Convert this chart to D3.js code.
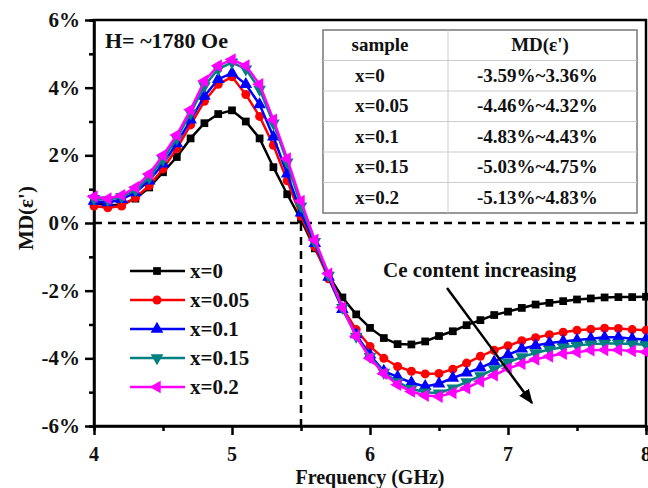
<!DOCTYPE html>
<html>
<head>
<meta charset="utf-8">
<script src="https://cdn.jsdelivr.net/npm/d3@7"></script>
<style>
  body { margin: 0; background: #fff; }
  text { font-family: "Liberation Serif", "Times New Roman", serif; font-weight: bold; fill: #111; }
</style>
</head>
<body>
<div id="chart"></div>
<script>
const freq = [4.0,4.1,4.2,4.3,4.4,4.5,4.6,4.7,4.8,4.9,5.0,5.1,5.2,5.3,5.4,5.5,5.6,5.7,5.8,5.9,6.0,
  6.1,6.2,6.3,6.4,6.5,6.6,6.7,6.8,6.9,7.0,7.1,7.2,7.3,7.4,7.5,7.6,7.7,7.8,7.9,8.0];

const mdX0 = [0.6,0.52,0.55,0.72,1.05,1.5,1.95,2.5,2.95,3.22,3.33,
  3.0,2.5,1.65,0.85,0.1,-0.75,-1.55,-2.2,-2.7,-3.1,
  -3.4,-3.58,-3.59,-3.5,-3.34,-3.2,-3.02,-2.87,-2.72,-2.62,
  -2.51,-2.41,-2.36,-2.31,-2.26,-2.23,-2.2,-2.19,-2.19,-2.18];
const mdX005 = [0.5,0.45,0.5,0.75,1.1,1.6,2.2,2.9,3.6,4.1,4.32,
  3.8,3.15,2.3,1.25,0.2,-0.7,-1.65,-2.5,-3.15,-3.65,
  -4.0,-4.24,-4.38,-4.46,-4.45,-4.32,-4.14,-3.94,-3.76,-3.63,
  -3.48,-3.39,-3.3,-3.23,-3.17,-3.14,-3.11,-3.12,-3.15,-3.17];
const mdX01 = [0.65,0.6,0.7,0.9,1.25,1.75,2.35,3.05,3.75,4.25,4.43,
  4.1,3.5,2.55,1.45,0.3,-0.6,-1.6,-2.55,-3.3,-3.9,
  -4.38,-4.55,-4.72,-4.83,-4.75,-4.58,-4.43,-4.28,-4.1,-3.9,
  -3.72,-3.62,-3.55,-3.5,-3.46,-3.42,-3.38,-3.38,-3.42,-3.44];
const mdX015 = [0.72,0.68,0.78,0.98,1.35,1.88,2.5,3.25,4.05,4.55,4.75,
  4.55,3.95,2.95,1.8,0.5,-0.55,-1.55,-2.5,-3.35,-3.95,
  -4.42,-4.7,-4.9,-5.0,-5.03,-4.88,-4.7,-4.52,-4.32,-4.12,
  -3.96,-3.84,-3.74,-3.67,-3.62,-3.58,-3.56,-3.56,-3.58,-3.6];
const mdX02 = [0.78,0.72,0.82,1.05,1.45,2.0,2.6,3.35,4.2,4.65,4.83,
  4.65,4.1,3.05,1.9,0.65,-0.5,-1.5,-2.5,-3.35,-4.0,
  -4.45,-4.78,-4.98,-5.1,-5.13,-5.02,-4.88,-4.68,-4.5,-4.3,
  -4.16,-4.03,-3.94,-3.86,-3.82,-3.76,-3.75,-3.75,-3.78,-3.81];

const seriesNames = ["x=0", "x=0.05", "x=0.1", "x=0.15", "x=0.2"];
const seriesValues = [mdX0, mdX005, mdX01, mdX015, mdX02];

const xTicks = [4, 5, 6, 7, 8];
const yTicks = [-6, -4, -2, 0, 2, 4, 6];

const tableHeader = ["sample", "MD(\u03b5')"];
const tableSamples = ["x=0", "x=0.05", "x=0.1", "x=0.15", "x=0.2"];
const tableRanges = ["-3.59%~3.36%", "-4.46%~4.32%", "-4.83%~4.43%", "-5.03%~4.75%", "-5.13%~4.83%"];

const colors = ["#000000", "#ff0000", "#0000ff", "#008080", "#ff00ff"];
const shapes = [
  { type: d3.symbolSquare, size: 60, rot: 0 },
  { type: d3.symbolCircle, size: 64, rot: 0 },
  { type: d3.symbolTriangle, size: 70, rot: 0 },
  { type: d3.symbolTriangle, size: 70, rot: 180 },
  { type: d3.symbolTriangle, size: 70, rot: -90 }
];

const W = 648, H = 488;
const margin = { top: 20, right: 2, bottom: 62, left: 94 };
const width = W - margin.left - margin.right;
const height = H - margin.top - margin.bottom;

const svg = d3.select("#chart").append("svg")
    .attr("width", W)
    .attr("height", H);

const g = svg.append("g")
    .attr("transform", `translate(${margin.left},${margin.top})`);

const x = d3.scaleLinear().domain([4, 8]).range([0, width]);
const y = d3.scaleLinear().domain([-6, 6]).range([height, 0]);

// frame
g.append("rect")
    .attr("width", width).attr("height", height)
    .attr("fill", "none").attr("stroke", "#000").attr("stroke-width", 2.5);

// table
const tb = { x: 323 - margin.left, y: 30 - margin.top, w: 314, rowH: 30.5, col: 448 - margin.left };
const table = g.append("g");
table.append("rect")
    .attr("x", tb.x).attr("y", tb.y)
    .attr("width", tb.w).attr("height", tb.rowH * 6)
    .attr("fill", "#fff").attr("stroke", "#777").attr("stroke-width", 1.5);
for (let i = 1; i < 6; i++) {
  table.append("line")
      .attr("x1", tb.x).attr("x2", tb.x + tb.w)
      .attr("y1", tb.y + i * tb.rowH).attr("y2", tb.y + i * tb.rowH)
      .attr("stroke", "#ccc").attr("stroke-width", 1);
}
table.append("line")
    .attr("x1", tb.col).attr("x2", tb.col)
    .attr("y1", tb.y).attr("y2", tb.y + tb.rowH * 6)
    .attr("stroke", "#ccc").attr("stroke-width", 1);
table.append("text")
    .attr("x", 380 - margin.left).attr("y", tb.y + tb.rowH / 2 + 6)
    .attr("text-anchor", "middle").style("font-size", "19px")
    .text(tableHeader[0]);
table.append("text")
    .attr("x", 540 - margin.left).attr("y", tb.y + tb.rowH / 2 + 6)
    .attr("text-anchor", "middle").style("font-size", "19px")
    .text(tableHeader[1]);
tableSamples.forEach((s, i) => {
  const cy = tb.y + (i + 1.5) * tb.rowH + 6;
  table.append("text")
      .attr("x", 355 - margin.left).attr("y", cy)
      .style("font-size", "19px").text(s);
  table.append("text")
      .attr("x", 477 - margin.left).attr("y", cy)
      .style("font-size", "19px")
      .text(tableRanges[i]);
});

// dashed reference lines
g.append("line")
    .attr("x1", 0).attr("x2", width)
    .attr("y1", y(0)).attr("y2", y(0))
    .attr("stroke", "#000").attr("stroke-width", 2.5).attr("stroke-dasharray", "8,6");
g.append("line")
    .attr("x1", x(5.5)).attr("x2", x(5.5))
    .attr("y1", y(0)).attr("y2", height)
    .attr("stroke", "#000").attr("stroke-width", 2.5).attr("stroke-dasharray", "8,6");

// axes
const xAxis = g.append("g")
    .attr("transform", `translate(0,${height})`)
    .call(d3.axisBottom(x).tickValues(d3.range(4, 8.01, 0.5)).tickSize(5).tickFormat(""));
xAxis.selectAll(".tick line").attr("stroke-width", 2.5)
    .attr("y2", d => (xTicks.includes(d) ? 9 : 5));
xAxis.select(".domain").attr("stroke-width", 2.5);
xTicks.forEach(t => {
  g.append("text")
      .attr("x", x(t)).attr("y", height + 35)
      .attr("text-anchor", "middle").style("font-size", "20px")
      .text(t);
});

const yAxis = g.append("g")
    .call(d3.axisLeft(y).tickValues(d3.range(-6, 6.01, 1)).tickSize(5).tickFormat(""));
yAxis.selectAll(".tick line").attr("stroke-width", 2.5)
    .attr("x2", d => (yTicks.includes(d) ? -9 : -5));
yAxis.select(".domain").attr("stroke-width", 2.5);
yTicks.forEach(t => {
  g.append("text")
      .attr("x", -14).attr("y", y(t) + 7)
      .attr("text-anchor", "end").style("font-size", "21px")
      .text(`${t}%`);
});

svg.append("text")
    .attr("x", margin.left + width / 2).attr("y", 484)
    .attr("text-anchor", "middle").style("font-size", "20px")
    .text("Frequency (GHz)");

svg.append("text")
    .attr("transform", "translate(33,218) rotate(-90)")
    .attr("text-anchor", "middle").style("font-size", "21px")
    .text("MD(\u03b5')");

// curves
const line = d3.line().x(d => x(d[0])).y(d => y(d[1]));
const symbolPath = (s) => d3.symbol().type(s.type).size(s.size)();

seriesValues.forEach((vals, i) => {
  const pts = freq.map((f, k) => [f, vals[k]]);
  g.append("path")
      .datum(pts)
      .attr("fill", "none")
      .attr("stroke", colors[i])
      .attr("stroke-width", 2.5)
      .attr("d", line);
  g.selectAll(null)
      .data(pts)
      .enter().append("path")
      .attr("d", symbolPath(shapes[i]))
      .attr("fill", colors[i])
      .attr("transform", d => `translate(${x(d[0])},${y(d[1])}) rotate(${shapes[i].rot})`);
});

// annotations
svg.append("text")
    .attr("x", 105).attr("y", 48)
    .style("font-size", "22px")
    .text("H= ~1780 Oe");

svg.append("text")
    .attr("x", 383).attr("y", 277)
    .style("font-size", "21px")
    .text("Ce content increasing");

svg.append("defs").append("marker")
    .attr("id", "arrow")
    .attr("viewBox", "0 0 10 10")
    .attr("refX", 9).attr("refY", 5)
    .attr("markerWidth", 6).attr("markerHeight", 6)
    .attr("orient", "auto")
  .append("path")
    .attr("d", "M0,1L10,5L0,9Z")
    .attr("fill", "#000");

svg.append("line")
    .attr("x1", 447).attr("y1", 288)
    .attr("x2", 532).attr("y2", 403)
    .attr("stroke", "#000").attr("stroke-width", 2.5)
    .attr("marker-end", "url(#arrow)");

// legend
const legend = svg.selectAll(".legend")
    .data(seriesNames)
    .enter().append("g")
    .attr("class", "legend")
    .attr("transform", (d, i) => `translate(130,${271 + i * 29})`);

legend.append("line")
    .attr("x1", 0).attr("x2", 55)
    .attr("stroke", (d, i) => colors[i]).attr("stroke-width", 2.5);

legend.append("path")
    .attr("d", (d, i) => symbolPath(shapes[i]))
    .attr("fill", (d, i) => colors[i])
    .attr("transform", (d, i) => `translate(27,0) rotate(${shapes[i].rot})`);

legend.append("text")
    .attr("x", 60).attr("y", 7)
    .style("font-size", "21px")
    .text(d => d);
</script>
</body>
</html>
